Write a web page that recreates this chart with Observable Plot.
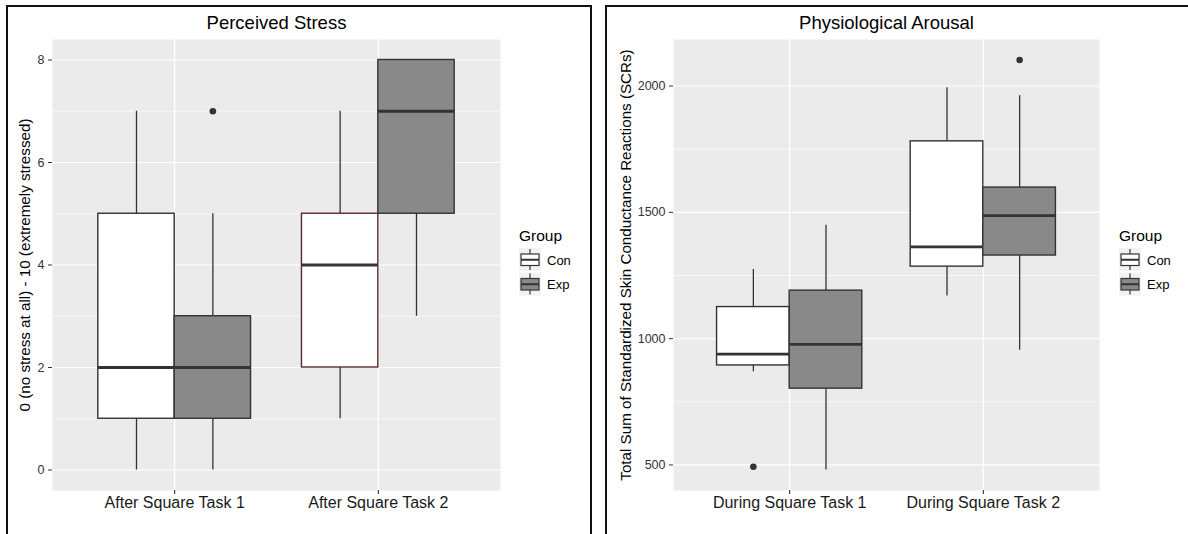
<!DOCTYPE html>
<html><head><meta charset="utf-8">
<script src="https://cdn.jsdelivr.net/npm/d3@7"></script>
<script src="https://cdn.jsdelivr.net/npm/@observablehq/plot@0.6"></script>
<style>
body{margin:0;background:#fff;width:1188px;height:534px;overflow:hidden;position:relative;font-family:"Liberation Sans",Arial,sans-serif;}
.panel{position:absolute;top:5px;height:600px;border:2px solid #111;box-sizing:border-box;}
.chart{position:absolute;top:0;}
.legend{position:absolute;overflow:visible;}
</style></head><body>
<div class="panel" style="left:6px;width:586px"></div>
<div class="panel" style="left:605px;width:600px"></div>
<div id="c1" class="chart" style="left:0px"></div>
<div id="c2" class="chart" style="left:600px"></div>
<svg id="l1" class="legend" style="left:515px;top:220px" width="80" height="90"></svg>
<svg id="l2" class="legend" style="left:1115px;top:220px" width="80" height="90"></svg>
<script>
// ---- shared ----
const groups = ["Con", "Exp"];
const groupFills = ["#ffffff", "#898989"];

// ---- Panel 1: Perceived Stress ----
const stressCategories = ["After Square Task 1", "After Square Task 2"];
const stressConLow    = [0, 1];
const stressConQ1     = [1, 2];
const stressConMedian = [2, 4];
const stressConQ3     = [5, 5];
const stressConHigh   = [7, 7];
const stressExpLow    = [0, 3];
const stressExpQ1     = [1, 5];
const stressExpMedian = [2, 7];
const stressExpQ3     = [3, 8];
const stressExpHigh   = [5, 8];
const stressOutlierCategory = ["After Square Task 1"];
const stressOutlierGroup    = ["Exp"];
const stressOutlierValue    = [7];
const stressTicks      = [0, 2, 4, 6, 8];
const stressMinorTicks = [1, 3, 5, 7];

// ---- Panel 2: Physiological Arousal ----
const scrCategories = ["During Square Task 1", "During Square Task 2"];
const scrConLow    = [869, 1169];
const scrConQ1     = [894, 1285];
const scrConMedian = [939, 1363];
const scrConQ3     = [1125, 1781];
const scrConHigh   = [1274, 1993];
const scrExpLow    = [480, 954];
const scrExpQ1     = [802, 1329];
const scrExpMedian = [977, 1487];
const scrExpQ3     = [1190, 1598];
const scrExpHigh   = [1449, 1962];
const scrOutlierCategory = ["During Square Task 1", "During Square Task 2"];
const scrOutlierGroup    = ["Con", "Exp"];
const scrOutlierValue    = [493, 2103];
const scrTicks      = [500, 1000, 1500, 2000];
const scrMinorTicks = [750, 1250, 1750];

function buildRows(cats, stats) {
  const rows = [];
  groups.forEach(g => {
    const s = stats[g];
    cats.forEach((c, i) => rows.push({category: c, group: g, low: s.low[i], q1: s.q1[i], median: s.median[i], q3: s.q3[i], high: s.high[i]}));
  });
  return rows;
}
function buildOutliers(cats, grps, vals) {
  return cats.map((c, i) => ({category: c, group: grps[i], value: vals[i]}));
}

function drawPanel(cfg) {
  const {rows, outliers, categories, ticks, minorTicks, title, ylabel, width, marginLeft, ylabelX} = cfg;
  const marginRight = 0, marginTop = 39, marginBottom = 44, height = 534;
  const allVals = rows.flatMap(r => [r.low, r.high]).concat(outliers.map(o => o.value));
  const [lo, hi] = d3.extent(allVals);
  const pad = (hi - lo) * 0.05;
  const innerW = width - marginLeft - marginRight;
  const bw = innerW / 2.2 * 0.75; // bandwidth of a category (two boxes)
  const marks = [
    Plot.frame({fill: "#ebebeb", stroke: "none"}),
    Plot.gridY(minorTicks, {stroke: "#ffffff", strokeOpacity: 1, strokeWidth: 0.6}),
    Plot.gridY(ticks, {stroke: "#ffffff", strokeOpacity: 1, strokeWidth: 1.2}),
    Plot.gridX({stroke: "#ffffff", strokeOpacity: 1, strokeWidth: 1.2}),
  ];
  groups.forEach((g, i) => {
    const data = rows.filter(r => r.group === g);
    const off = (i === 0 ? -1 : 1) * bw / 4;
    marks.push(
      Plot.ruleX(data, {x: "category", y1: "low", y2: "high", stroke: "#333333", strokeWidth: 1.3, dx: off}),
      Plot.barY(data, {x: "category", y1: "q1", y2: "q3", fill: "group",
        stroke: d => (cfg.redBox && d.category === categories[1] && d.group === "Con") ? "#5a2a2a" : "#333333",
        strokeWidth: 1.4, insetLeft: i === 0 ? 0 : bw / 2, insetRight: i === 0 ? bw / 2 : 0}),
      Plot.tickY(data, {x: "category", y: "median", stroke: "#333333", strokeWidth: 2.8,
        insetLeft: i === 0 ? 0 : bw / 2, insetRight: i === 0 ? bw / 2 : 0}),
      Plot.dot(outliers.filter(o => o.group === g), {x: "category", y: "value", r: 3.3, fill: "#333333", stroke: "none", dx: off})
    );
  });
  marks.push(
    Plot.axisY(ticks, {tickSize: 4, tickPadding: 4, fontSize: 12.5, color: "#333333", label: null, tickFormat: d3.format("d")}),
    Plot.axisX({tickSize: 4, tickPadding: 2, fontSize: 16, color: "#1a1a1a", label: null}),
    Plot.text([title], {text: d => d, frameAnchor: "top", dy: -16, fontSize: 18.5, fill: "#000", lineAnchor: "middle"}),
    Plot.text([ylabel], {text: d => d, frameAnchor: "left", rotate: -90, dx: ylabelX - marginLeft, fontSize: 15.2, fill: "#000", textAnchor: "middle", lineAnchor: "middle"})
  );
  return Plot.plot({
    width, height, marginLeft, marginRight, marginTop, marginBottom,
    style: {fontFamily: "Liberation Sans, Arial, sans-serif", background: "transparent", overflow: "visible"},
    x: {domain: categories, paddingInner: 0.25, paddingOuter: 0.225, round: false, label: null},
    y: {domain: [lo - pad, hi + pad], label: null},
    color: {domain: groups, range: groupFills},
    marks
  });
}

function drawLegend(sel) {
  const svg = d3.select(sel);
  svg.append("text").attr("x", 4).attr("y", 16).attr("dy", "0.35em")
    .attr("font-size", 15.5).attr("fill", "#000").attr("font-family", "Liberation Sans, Arial, sans-serif").text("Group");
  groups.forEach((g, i) => {
    const y0 = 28 + i * 24.5;
    const k = svg.append("g").attr("transform", `translate(4,${y0})`);
    k.append("rect").attr("width", 22).attr("height", 23).attr("fill", "#f2f2f2");
    k.append("line").attr("x1", 11).attr("x2", 11).attr("y1", 1).attr("y2", 22).attr("stroke", "#333").attr("stroke-width", 1.2);
    k.append("rect").attr("x", 2).attr("y", 6).attr("width", 18).attr("height", 11.5)
      .attr("fill", groupFills[i]).attr("stroke", "#333").attr("stroke-width", 1.2);
    k.append("line").attr("x1", 2).attr("x2", 20).attr("y1", 11.75).attr("y2", 11.75).attr("stroke", "#333").attr("stroke-width", 2);
    svg.append("text").attr("x", 32).attr("y", y0 + 12).attr("dy", "0.35em")
      .attr("font-size", 13).attr("fill", "#000").attr("font-family", "Liberation Sans, Arial, sans-serif").text(g);
  });
}

const stressRows = buildRows(stressCategories, {
  Con: {low: stressConLow, q1: stressConQ1, median: stressConMedian, q3: stressConQ3, high: stressConHigh},
  Exp: {low: stressExpLow, q1: stressExpQ1, median: stressExpMedian, q3: stressExpQ3, high: stressExpHigh}
});
const scrRows = buildRows(scrCategories, {
  Con: {low: scrConLow, q1: scrConQ1, median: scrConMedian, q3: scrConQ3, high: scrConHigh},
  Exp: {low: scrExpLow, q1: scrExpQ1, median: scrExpMedian, q3: scrExpQ3, high: scrExpHigh}
});

document.getElementById("c1").append(drawPanel({
  rows: stressRows,
  outliers: buildOutliers(stressOutlierCategory, stressOutlierGroup, stressOutlierValue),
  categories: stressCategories, ticks: stressTicks, minorTicks: stressMinorTicks,
  title: "Perceived Stress", ylabel: "0 (no stress at all) - 10 (extremely stressed)",
  width: 500, marginLeft: 52, ylabelX: 25, redBox: true
}));
document.getElementById("c2").append(drawPanel({
  rows: scrRows,
  outliers: buildOutliers(scrOutlierCategory, scrOutlierGroup, scrOutlierValue),
  categories: scrCategories, ticks: scrTicks, minorTicks: scrMinorTicks,
  title: "Physiological Arousal", ylabel: "Total Sum of Standardized Skin Conductance Reactions (SCRs)",
  width: 499, marginLeft: 73, ylabelX: 26
}));
drawLegend("#l1");
drawLegend("#l2");
</script>
</body></html>
